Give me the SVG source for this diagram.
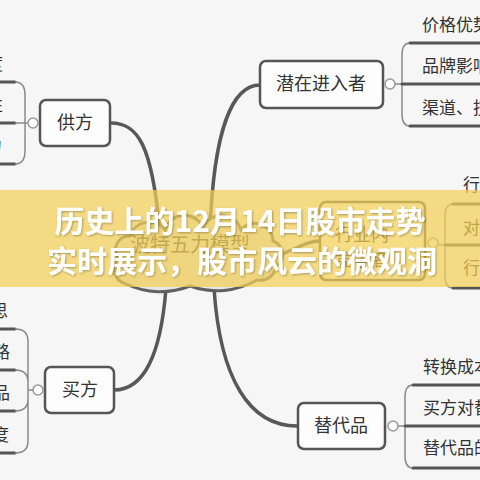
<svg xmlns="http://www.w3.org/2000/svg" width="480" height="480" viewBox="0 0 480 480">
<defs>
<style>
.conn{fill:none;stroke:#585858;stroke-width:3.5;stroke-linecap:round}
.brk{fill:none;stroke:#8a8a8a;stroke-width:1.5}
.ul{stroke:#555;stroke-width:3;stroke-linecap:round}
.box{fill:#fdfdfd;stroke:#555;stroke-width:2.5}
.nt{font-family:"Noto Sans CJK SC","Noto Sans",sans-serif;font-size:18px;fill:#333;text-anchor:middle}
.st{font-family:"Noto Sans CJK SC","Noto Sans",sans-serif;font-size:17px;fill:#333}
.ce{fill:#fff;stroke:#999;stroke-width:1.5}
.bt{font-family:"Noto Sans CJK SC","Noto Sans",sans-serif;font-size:30px;font-weight:bold;fill:#fff;text-anchor:middle}
</style>
<filter id="sh" x="-10%" y="-30%" width="120%" height="160%">
<feDropShadow dx="1" dy="1" stdDeviation="1" flood-color="#000" flood-opacity="0.3"/>
</filter>
</defs>
<rect width="480" height="480" fill="#f6f6f6"/>
<g id="connectors">
<path class="conn" d="M111 123 C138 123 152 145 160 232"/>
<path class="conn" d="M260 85 C234 85 214 125 210 230"/>
<path class="conn" d="M114 390 C150 390 162 340 166 288"/>
<path class="conn" d="M297 426 C250 426 220 380 214 288"/>
<path class="conn" d="M276 256 C296 250 305 241 320 241"/>
</g>
<g id="center">
<path d="M118 258 A14 14 0 0 1 130 236 A20 20 0 0 1 165 230 A20 20 0 0 1 203 228 A20 20 0 0 1 241 230 A18 18 0 0 1 273 241 A14 14 0 0 1 276 266 A16 16 0 0 1 257 280 A80 80 0 0 1 190 286 A80 80 0 0 1 126 284 A16 16 0 0 1 118 258 Z" fill="#e6e6e6" stroke="#606060" stroke-width="3"/>
<text class="nt" x="190" y="252" style="font-size:20px;fill:#444">波特五力模型</text>
</g>
<g id="supplier">
<rect class="box" x="40" y="100" width="70" height="46" rx="6"/>
<text class="nt" x="75" y="129">供方</text>
<path class="ul" d="M0 82 H15 M0 123 H15 M0 164 H15"/>
<path class="brk" d="M15 82 Q25 82 25 95 V151 Q25 164 15 164 M15 123 H28"/>
<circle class="ce" cx="33" cy="123" r="5"/>
<text class="st" x="3" y="70" text-anchor="end">度</text>
<text class="st" x="3" y="111" text-anchor="end">性</text>
<text class="st" x="2" y="152" text-anchor="end">力</text>
</g>
<g id="entrant">
<rect class="box" x="260" y="61" width="123" height="47" rx="6"/>
<text class="nt" x="321" y="90">潜在进入者</text>
<circle class="ce" cx="390" cy="84" r="5"/>
<path class="brk" d="M395 84 H402 M410 43 Q402 43 402 55 V114 Q402 126 410 126"/>
<path class="ul" d="M410 43 H480 M402 84 H480 M410 126 H480"/>
<text class="st" x="422" y="31">价格优势</text>
<text class="st" x="422" y="72">品牌影响力</text>
<text class="st" x="422" y="114">渠道、技术</text>
</g>
<g id="rivalry">
<rect class="box" x="320" y="202" width="105" height="78" rx="6"/>
<text class="nt" x="362" y="241">行业内</text>
<text class="nt" x="362" y="266">竞争者</text>
<circle class="ce" cx="433" cy="243" r="5"/>
<path class="brk" d="M438 245 H445 M453 204 Q445 204 445 216 V276 Q445 288 453 288"/>
<path class="ul" d="M453 204 H480 M445 245 H480 M453 288 H480"/>
<text class="st" x="463" y="191">行业</text>
<text class="st" x="463" y="234">对手</text>
<text class="st" x="463" y="274">行业</text>
</g>
<g id="buyer">
<rect class="box" x="45" y="367" width="69" height="46" rx="6"/>
<text class="nt" x="80" y="396">买方</text>
<circle class="ce" cx="38" cy="390" r="5"/>
<path class="ul" d="M0 329 H15 M0 370 H15 M0 411 H15 M0 453 H15"/>
<path class="brk" d="M15 329 Q28 329 28 341 V441 Q28 453 15 453 M15 370 Q28 370 28 382 M15 411 Q28 411 28 399 M28 390 H33"/>
<text class="st" x="8" y="317" text-anchor="end">思</text>
<text class="st" x="10" y="358" text-anchor="end">路</text>
<text class="st" x="10" y="399" text-anchor="end">品</text>
<text class="st" x="9" y="441" text-anchor="end">度</text>
</g>
<g id="substitute">
<rect class="box" x="298" y="403" width="87" height="46" rx="6"/>
<text class="nt" x="341" y="432">替代品</text>
<circle class="ce" cx="393" cy="426" r="5"/>
<path class="brk" d="M398 426 H405 M413 385 Q405 385 405 397 V456 Q405 468 413 468"/>
<path class="ul" d="M413 385 H480 M405 426 H480 M413 468 H480"/>
<text class="st" x="423" y="373">转换成本</text>
<text class="st" x="423" y="414">买方对替代</text>
<text class="st" x="423" y="454">替代品的</text>
</g>
<rect x="0" y="190" width="480" height="97" fill="#f2cf55" fill-opacity="0.72"/>
<g filter="url(#sh)">
<text class="bt" x="240" y="232">历史上的12月14日股市走势</text>
<text class="bt" x="242" y="272">实时展示，股市风云的微观洞</text>
</g>
</svg>
